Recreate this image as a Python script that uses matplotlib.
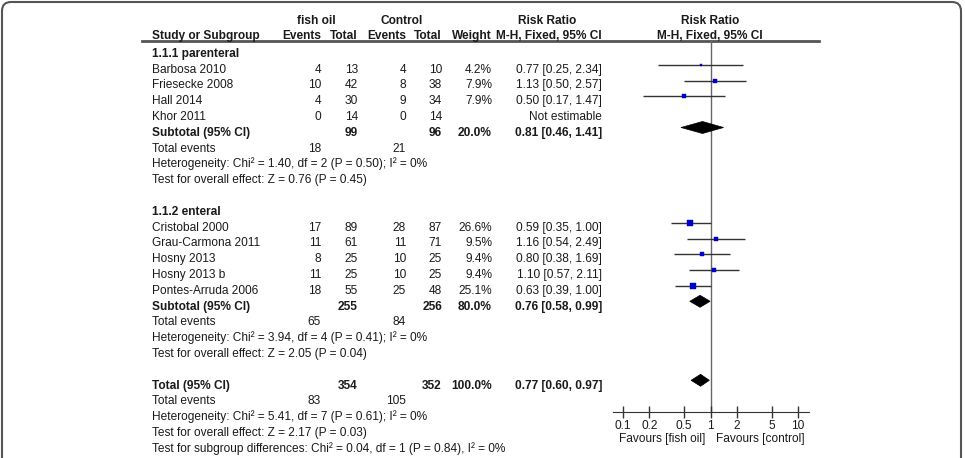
import numpy as np
import matplotlib
matplotlib.use("Agg")
import matplotlib.pyplot as plt
from matplotlib.patches import FancyBboxPatch, Polygon

plt.rcParams['font.family'] = ['Liberation Sans', 'DejaVu Sans']

# ---- data ----
g1_title = "1.1.1 parenteral"
g1_names = ["Barbosa 2010", "Friesecke 2008", "Hall 2014", "Khor 2011"]
g1_fish_ev = [4, 10, 4, 0]
g1_fish_tot = [13, 42, 30, 14]
g1_ctrl_ev = [4, 8, 9, 0]
g1_ctrl_tot = [10, 38, 34, 14]
g1_weight = [4.2, 7.9, 7.9, None]
g1_rr = [0.77, 1.13, 0.50, None]
g1_lo = [0.25, 0.50, 0.17, None]
g1_hi = [2.34, 2.57, 1.47, None]

g2_title = "1.1.2 enteral"
g2_names = ["Cristobal 2000", "Grau-Carmona 2011", "Hosny 2013", "Hosny 2013 b", "Pontes-Arruda 2006"]
g2_fish_ev = [17, 11, 8, 11, 18]
g2_fish_tot = [89, 61, 25, 25, 55]
g2_ctrl_ev = [28, 11, 10, 10, 25]
g2_ctrl_tot = [87, 71, 25, 25, 48]
g2_weight = [26.6, 9.5, 9.4, 9.4, 25.1]
g2_rr = [0.59, 1.16, 0.80, 1.10, 0.63]
g2_lo = [0.35, 0.54, 0.38, 0.57, 0.39]
g2_hi = [1.00, 2.49, 1.69, 2.11, 1.00]

sub_fish_tot = [99, 255]
sub_ctrl_tot = [96, 256]
sub_weight = [20.0, 80.0]
sub_rr = [0.81, 0.76]
sub_lo = [0.46, 0.58]
sub_hi = [1.41, 0.99]
sub_fish_ev = [18, 65]
sub_ctrl_ev = [21, 84]
sub_het = ["Heterogeneity: Chi² = 1.40, df = 2 (P = 0.50); I² = 0%",
           "Heterogeneity: Chi² = 3.94, df = 4 (P = 0.41); I² = 0%"]
sub_test = ["Test for overall effect: Z = 0.76 (P = 0.45)",
            "Test for overall effect: Z = 2.05 (P = 0.04)"]

tot_fish_tot, tot_ctrl_tot, tot_weight = 354, 352, 100.0
tot_rr, tot_lo, tot_hi = 0.77, 0.60, 0.97
tot_fish_ev, tot_ctrl_ev = 83, 105
tot_het = "Heterogeneity: Chi² = 5.41, df = 7 (P = 0.61); I² = 0%"
tot_test = "Test for overall effect: Z = 2.17 (P = 0.03)"
subgroup_test = "Test for subgroup differences: Chi² = 0.04, df = 1 (P = 0.84), I² = 0%"

ticks = [0.1, 0.2, 0.5, 1, 2, 5, 10]
tick_labels = ["0.1", "0.2", "0.5", "1", "2", "5", "10"]

# ---- layout (pixels) ----
W, H = 965, 458
FS = 8.6
TXT = '#1a1a1a'
x_name = 152
x_fe, x_ft, x_ce, x_ct, x_w, x_rr = 321, 358, 406, 442, 492, 602


def ry(k):
    return 52.5 + 15.8 * k


fig = plt.figure(figsize=(W / 100, H / 100), dpi=100)
ax = fig.add_axes([0, 0, 1, 1])
ax.set_xlim(0, W)
ax.set_ylim(H, 0)
ax.axis('off')

# forest axes
fx0, fx1, fy0, fy1 = 613, 809, 41, 412
fa = fig.add_axes([fx0 / W, (H - fy1) / H, (fx1 - fx0) / W, (fy1 - fy0) / H])
fa.set_xscale('log')
fa.set_xlim(10 ** (-1 - 10 / 87.5), 10 ** (1 + 11 / 87.5))
fa.set_ylim(fy1, fy0)
fa.patch.set_visible(False)
for s in ['top', 'left', 'right']:
    fa.spines[s].set_visible(False)
fa.spines['bottom'].set_color('#333333')
fa.set_xticks(ticks)
fa.set_xticklabels(tick_labels)
fa.minorticks_off()
fa.set_yticks([])
fa.tick_params(axis='x', direction='inout', length=9, width=1, color='#333333',
               labelsize=FS, labelcolor=TXT, pad=1)
fa.axvline(1, color='#666666', lw=1, zorder=0.5)

# frame
frame = FancyBboxPatch((2, 2), 959, 480, boxstyle="round,pad=0,rounding_size=9",
                       fc='none', ec='#555555', lw=1.5)
ax.add_patch(frame)


def txt_at(x, y, s, ha='left', bold=False):
    ax.text(x, y + 4.3, s, ha=ha, va='baseline', fontsize=FS, color=TXT,
            fontweight='bold' if bold else 'normal')


# headers
txt_at(316, 20, "fish oil", ha='center', bold=True)
txt_at(402, 20, "Control", ha='center', bold=True)
txt_at(547, 20, "Risk Ratio", ha='center', bold=True)
txt_at(710, 20, "Risk Ratio", ha='center', bold=True)
txt_at(x_name, 35, "Study or Subgroup", bold=True)
txt_at(x_fe, 35, "Events", ha='right', bold=True)
txt_at(x_ft, 35, "Total", ha='right', bold=True)
txt_at(x_ce, 35, "Events", ha='right', bold=True)
txt_at(x_ct, 35, "Total", ha='right', bold=True)
txt_at(x_w, 35, "Weight", ha='right', bold=True)
txt_at(x_rr, 35, "M-H, Fixed, 95% CI", ha='right', bold=True)
txt_at(710, 35, "M-H, Fixed, 95% CI", ha='center', bold=True)
ax.plot([142, 819], [41, 41], color='#555555', lw=2)


def diamond(y, rr, lo, hi, h=6):
    fa.add_patch(Polygon([(lo, y), (rr, y - h), (hi, y), (rr, y + h)],
                         closed=True, fc='black', ec='black', lw=0.5, zorder=3))


def group(k0, title, names, fe, ft, ce, ct, w, rr, lo, hi, gi):
    txt_at(x_name, ry(k0), title, bold=True)
    k = k0 + 1
    for i in range(len(names)):
        y = ry(k)
        txt_at(x_name, y, names[i])
        txt_at(x_fe, y, str(fe[i]), ha='right')
        txt_at(x_ft, y, str(ft[i]), ha='right')
        txt_at(x_ce, y, str(ce[i]), ha='right')
        txt_at(x_ct, y, str(ct[i]), ha='right')
        if rr[i] is None:
            txt_at(x_rr, y, "Not estimable", ha='right')
        else:
            txt_at(x_w, y, f"{w[i]:.1f}%", ha='right')
            txt_at(x_rr, y, f"{rr[i]:.2f} [{lo[i]:.2f}, {hi[i]:.2f}]", ha='right')
            my = y - 3.5
            fa.plot([lo[i], hi[i]], [my, my], color='#333333', lw=1, solid_capstyle='butt')
            side = 1.3 * np.sqrt(w[i]) * 0.72
            fa.plot([rr[i]], [my], marker='s', ms=side, color='#0000cc', mec='#0000cc', mew=0.3)
        k += 1
    y = ry(k)
    txt_at(x_name, y, "Subtotal (95% CI)", bold=True)
    txt_at(x_ft, y, str(sub_fish_tot[gi]), ha='right', bold=True)
    txt_at(x_ct, y, str(sub_ctrl_tot[gi]), ha='right', bold=True)
    txt_at(x_w, y, f"{sub_weight[gi]:.1f}%", ha='right', bold=True)
    txt_at(x_rr, y, f"{sub_rr[gi]:.2f} [{sub_lo[gi]:.2f}, {sub_hi[gi]:.2f}]", ha='right', bold=True)
    diamond(y - 4, sub_rr[gi], sub_lo[gi], sub_hi[gi])
    txt_at(x_name, ry(k + 1), "Total events")
    txt_at(x_fe, ry(k + 1), str(sub_fish_ev[gi]), ha='right')
    txt_at(x_ce, ry(k + 1), str(sub_ctrl_ev[gi]), ha='right')
    txt_at(x_name, ry(k + 2), sub_het[gi])
    txt_at(x_name, ry(k + 3), sub_test[gi])


group(0, g1_title, g1_names, g1_fish_ev, g1_fish_tot, g1_ctrl_ev, g1_ctrl_tot,
      g1_weight, g1_rr, g1_lo, g1_hi, 0)
group(10, g2_title, g2_names, g2_fish_ev, g2_fish_tot, g2_ctrl_ev, g2_ctrl_tot,
      g2_weight, g2_rr, g2_lo, g2_hi, 1)

# overall
y = ry(21)
txt_at(x_name, y, "Total (95% CI)", bold=True)
txt_at(x_ft, y, str(tot_fish_tot), ha='right', bold=True)
txt_at(x_ct, y, str(tot_ctrl_tot), ha='right', bold=True)
txt_at(x_w, y, f"{tot_weight:.1f}%", ha='right', bold=True)
txt_at(x_rr, y, f"{tot_rr:.2f} [{tot_lo:.2f}, {tot_hi:.2f}]", ha='right', bold=True)
diamond(y - 4, tot_rr, tot_lo, tot_hi)
txt_at(x_name, ry(22), "Total events")
txt_at(x_fe, ry(22), str(tot_fish_ev), ha='right')
txt_at(x_ce, ry(22), str(tot_ctrl_ev), ha='right')
txt_at(x_name, ry(23), tot_het)
txt_at(x_name, ry(24), tot_test)
txt_at(x_name, ry(25), subgroup_test)

# favours labels
txt_at(662, 438, "Favours [fish oil]", ha='center')
txt_at(760, 438, "Favours [control]", ha='center')

fig.savefig("out.png", dpi=100)
